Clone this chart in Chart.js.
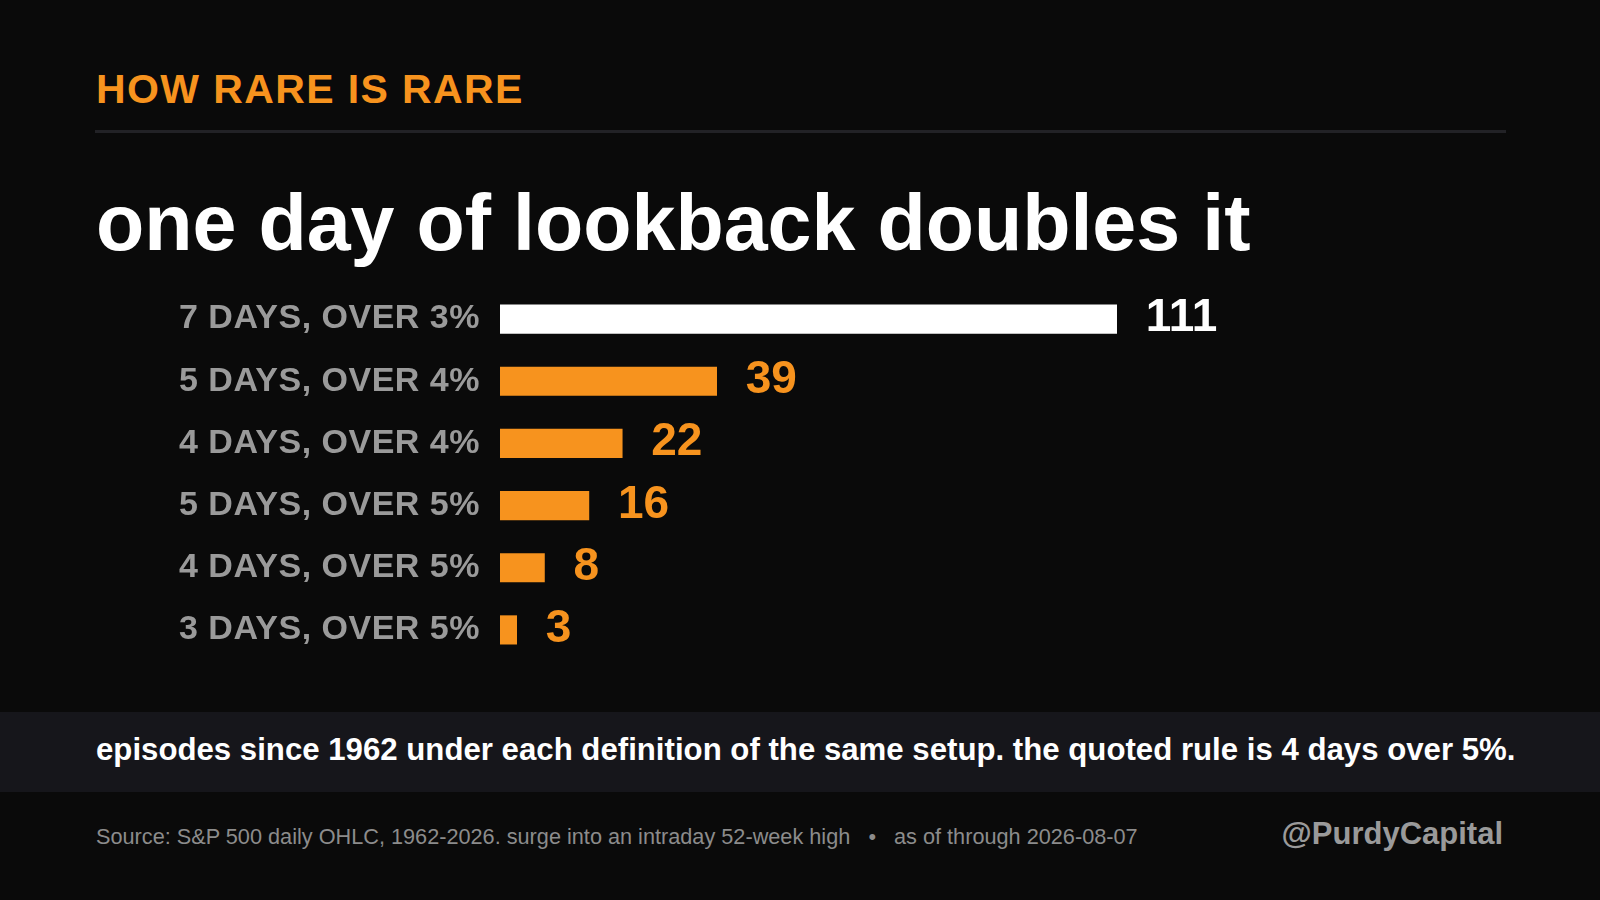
<!DOCTYPE html>
<html>
<head>
<meta charset="utf-8">
<script src="https://cdn.jsdelivr.net/npm/chart.js@4"></script>
<style>
  html, body { margin: 0; padding: 0; background: #0a0a0a; }
  body { width: 1600px; height: 900px; position: relative; overflow: hidden;
         font-family: "Liberation Sans", Arial, sans-serif; }
  .abs { position: absolute; white-space: nowrap; line-height: 1; }
  #kicker { left: 96px; top: 69px; font-size: 41px; font-weight: 700; color: #f7931e; letter-spacing: 1.4px; }
  #rule { position: absolute; left: 95px; top: 130px; width: 1411px; height: 3px; background: #222226; }
  #title { left: 96px; top: 183px; font-size: 79px; font-weight: 700; color: #ffffff; }
  #band { position: absolute; left: 0; top: 712px; width: 1600px; height: 80px; background: #16161b; }
  #note { left: 96px; top: 733.5px; font-size: 31.2px; font-weight: 700; color: #ffffff; }
  #source { left: 96px; top: 825.5px; font-size: 21.7px; color: #8c8c8c; }
  #handle { right: 97px; top: 818px; font-size: 31px; font-weight: 700; color: #9a9a9a; }
  #wrap { position: absolute; left: 0; top: 288px; width: 1500px; height: 373px; }
</style>
</head>
<body>
<div id="kicker" class="abs">HOW RARE IS RARE</div>
<div id="rule"></div>
<div id="title" class="abs">one day of lookback doubles it</div>
<div id="wrap"><canvas id="chart"></canvas></div>
<div id="band"></div>
<div id="note" class="abs">episodes since 1962 under each definition of the same setup. the quoted rule is 4 days over 5%.</div>
<div id="source" class="abs">Source: S&amp;P 500 daily OHLC, 1962-2026. surge into an intraday 52-week high &nbsp;&nbsp;•&nbsp;&nbsp; as of through 2026-08-07</div>
<div id="handle" class="abs">@PurdyCapital</div>

<script>
// Dados do gráfico
const categorias = ['7 DAYS, OVER 3%', '5 DAYS, OVER 4%', '4 DAYS, OVER 4%', '5 DAYS, OVER 5%', '4 DAYS, OVER 5%', '3 DAYS, OVER 5%'];
const episodios = [111, 39, 22, 16, 8, 3];
const destaque = [true, false, false, false, false, false];

const LARANJA = '#f7931e';
const BRANCO = '#ffffff';
const FONTE = '"Liberation Sans", Arial, sans-serif';

const coresBarras = destaque.map(d => d ? BRANCO : LARANJA);

// Espaçamento entre letras só nos rótulos do eixo
const espacamento = {
  id: 'espacamento',
  beforeDraw(chart) { chart.ctx.letterSpacing = '0.5px'; },
  beforeDatasetsDraw(chart) { chart.ctx.letterSpacing = '0px'; }
};

// Rótulos de valor no fim de cada barra
const valorLabels = {
  id: 'valorLabels',
  afterDatasetsDraw(chart) {
    const ctx = chart.ctx;
    const meta = chart.getDatasetMeta(0);
    ctx.save();
    ctx.font = 'bold 46px ' + FONTE;
    ctx.textAlign = 'left';
    ctx.textBaseline = 'alphabetic';
    meta.data.forEach((bar, i) => {
      ctx.fillStyle = coresBarras[i];
      ctx.fillText(String(episodios[i]), bar.x + 29, bar.y + 12);
    });
    ctx.restore();
  }
};

new Chart(document.getElementById('chart'), {
  type: 'bar',
  data: {
    labels: categorias,
    datasets: [{
      data: episodios,
      backgroundColor: coresBarras,
      borderWidth: 0,
      barThickness: 28.5
    }]
  },
  options: {
    indexAxis: 'y',
    responsive: true,
    maintainAspectRatio: false,
    animation: false,
    layout: { padding: 0 },
    plugins: {
      legend: { display: false },
      tooltip: { enabled: false }
    },
    scales: {
      x: {
        display: false,
        min: 0,
        max: 180
      },
      y: {
        grid: { display: false, drawTicks: false, tickLength: 0 },
        border: { display: false },
        afterFit(axis) {
          axis.width = 500;
          axis.paddingTop = 0;
          axis.paddingBottom = 0;
        },
        ticks: {
          color: '#9a9a9a',
          padding: 20,
          font: { family: FONTE, size: 34, weight: 'bold' }
        }
      }
    }
  },
  plugins: [espacamento, valorLabels]
});
</script>
</body>
</html>
